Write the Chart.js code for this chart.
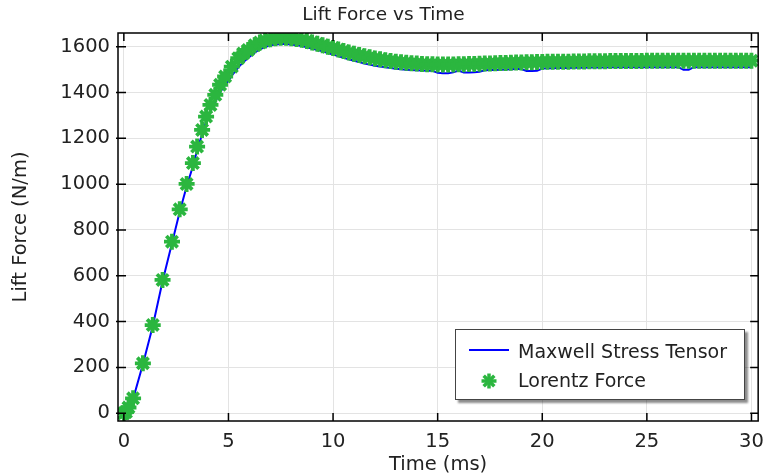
<!DOCTYPE html>
<html><head><meta charset="utf-8">
<script src="https://cdn.jsdelivr.net/npm/chart.js@4.4.1/dist/chart.umd.min.js"></script>
<style>
html,body{margin:0;padding:0;background:#fff;}
#wrap{position:relative;width:773px;height:476px;overflow:hidden;}
#legend{position:absolute;left:455px;top:329px;width:288px;height:69px;border:1.5px solid #444;background:#fff;box-shadow:3px 3px 2px rgba(0,0,0,0.45);font-family:"DejaVu Sans";font-size:19px;color:#222;}
.txt{position:absolute;left:62px;height:24px;line-height:24px;white-space:nowrap;}
.ln{position:absolute;left:13px;top:19px;width:40px;height:2px;background:#0000ff;}
.mk{position:absolute;left:24px;top:42px;}
</style></head>
<body><div id="wrap"><canvas id="c" width="773" height="476"></canvas><div id="legend"></div></div>
<script>
const chartTitle = 'Lift Force vs Time';
const xLabel = 'Time (ms)';
const yLabel = 'Lift Force (N/m)';
const seriesNames = ['Maxwell Stress Tensor', 'Lorentz Force'];
const xTicks = [0, 5, 10, 15, 20, 25, 30];
const yTicks = [0, 200, 400, 600, 800, 1000, 1200, 1400, 1600];

const time = [
  0, 0.1, 0.22, 0.44, 0.91, 1.38, 1.85, 2.3, 2.67, 3.0, 3.3, 3.5, 3.74, 3.93, 4.14, 4.37, 4.6, 4.84, 5.16, 5.47, 5.7, 5.94,
  6.25, 6.5, 6.75, 7, 7.25, 7.5, 7.75, 8,
  8.25, 8.5, 8.75, 9, 9.25, 9.5, 9.75, 10,
  10.25, 10.5, 10.75, 11, 11.25, 11.5, 11.75, 12,
  12.25, 12.5, 12.75, 13, 13.25, 13.5, 13.75, 14,
  14.25, 14.5, 14.75, 15, 15.25, 15.5, 15.75, 16,
  16.25, 16.5, 16.75, 17, 17.25, 17.5, 17.75, 18,
  18.25, 18.5, 18.75, 19, 19.25, 19.5, 19.75, 20,
  20.25, 20.5, 20.75, 21, 21.25, 21.5, 21.75, 22,
  22.25, 22.5, 22.75, 23, 23.25, 23.5, 23.75, 24,
  24.25, 24.5, 24.75, 25, 25.25, 25.5, 25.75, 26,
  26.25, 26.5, 26.75, 27, 27.25, 27.5, 27.75, 28,
  28.25, 28.5, 28.75, 29, 29.25, 29.5, 29.75, 30
];

const lorentz = [
  0, 5, 25, 65, 218, 385, 582, 749, 890, 1001, 1092, 1164, 1237, 1295, 1346, 1390, 1434, 1470, 1513, 1550, 1570, 1586,
  1606, 1618, 1627, 1633, 1637, 1639, 1639, 1637,
  1634, 1630, 1625, 1619, 1613, 1607, 1600, 1594,
  1588, 1581, 1575, 1569, 1564, 1559, 1554, 1549,
  1545, 1541, 1538, 1535, 1532, 1530, 1528, 1527,
  1525, 1524, 1524, 1523, 1523, 1523, 1523, 1524,
  1524, 1525, 1525, 1526, 1527, 1527, 1528, 1529,
  1529, 1530, 1531, 1531, 1532, 1532, 1533, 1533,
  1534, 1534, 1535, 1535, 1535, 1536, 1536, 1536,
  1537, 1537, 1537, 1537, 1538, 1538, 1538, 1538,
  1538, 1538, 1538, 1539, 1539, 1539, 1539, 1539,
  1539, 1539, 1539, 1539, 1539, 1539, 1539, 1539,
  1539, 1539, 1539, 1539, 1539, 1539, 1539, 1539
];

const maxwell = [
  0, 4, 22, 62, 214, 380, 576, 742, 880, 990, 1078, 1148, 1218, 1272, 1318, 1360, 1402, 1432, 1474, 1510, 1532, 1551,
  1574, 1589, 1599, 1606, 1610, 1612, 1612, 1610,
  1607, 1603, 1598, 1592, 1586, 1580, 1573, 1566,
  1559, 1552, 1545, 1539, 1533, 1527, 1522, 1517,
  1514, 1510, 1507, 1504, 1502, 1500, 1498, 1497,
  1496, 1495, 1495, 1486, 1484, 1484, 1488, 1496,
  1488, 1488, 1489, 1491, 1497, 1498, 1499, 1500,
  1501, 1502, 1503, 1503, 1494, 1494, 1495, 1505,
  1506, 1506, 1507, 1507, 1507, 1508, 1508, 1508,
  1509, 1509, 1509, 1509, 1510, 1510, 1510, 1510,
  1510, 1510, 1510, 1511, 1511, 1511, 1511, 1511,
  1511, 1511, 1500, 1500, 1511, 1511, 1511, 1511,
  1511, 1511, 1511, 1511, 1511, 1511, 1511, 1511
];

const BLUE = '#0000ff';
const GREEN = '#2bb63f';
const FONT = 'DejaVu Sans';
const TXT = '#222';

const framePlugin = {
  id: 'frame',
  afterDatasetsDraw(chart) {
    const {ctx, chartArea: a, scales: {x, y}} = chart;
    ctx.save();
    ctx.strokeStyle = '#000';
    ctx.lineWidth = 1.5;
    ctx.strokeRect(a.left, a.top, a.right - a.left, a.bottom - a.top);
    ctx.beginPath();
    const L = 8;
    xTicks.forEach(v => {
      const px = x.getPixelForValue(v);
      ctx.moveTo(px, a.bottom); ctx.lineTo(px, a.bottom - L);
      ctx.moveTo(px, a.top); ctx.lineTo(px, a.top + L);
    });
    yTicks.forEach(v => {
      const py = y.getPixelForValue(v);
      ctx.moveTo(a.left - 2, py); ctx.lineTo(a.left + L, py);
      ctx.moveTo(a.right, py); ctx.lineTo(a.right - L, py);
    });
    ctx.stroke();
    ctx.restore();
  }
};

new Chart(document.getElementById('c'), {
  type: 'scatter',
  data: {
    datasets: [
      {
        label: seriesNames[0],
        data: time.map((t, i) => ({x: t, y: maxwell[i]})),
        showLine: true,
        borderColor: BLUE,
        backgroundColor: BLUE,
        borderWidth: 2,
        pointRadius: 0,
        order: 2
      },
      {
        label: seriesNames[1],
        data: time.map((t, i) => ({x: t, y: lorentz[i]})),
        showLine: false,
        pointStyle: 'star',
        pointRadius: 8,
        pointBorderWidth: 3.8,
        borderColor: GREEN,
        backgroundColor: GREEN,
        clip: 0,
        order: 1
      }
    ]
  },
  options: {
    responsive: false,
    animation: false,
    devicePixelRatio: 1,
    layout: {padding: {top: 0, right: 6, left: 0, bottom: 0}},
    plugins: {
      legend: {display: false},
      tooltip: {enabled: false},
      title: {
        display: true,
        text: chartTitle,
        color: TXT,
        font: {family: FONT, size: 18.5, weight: 'normal', lineHeight: 1.2},
        padding: {top: 4, bottom: 6.8}
      }
    },
    scales: {
      x: {
        type: 'linear',
        min: -0.28,
        max: 30.32,
        afterBuildTicks: s => { s.ticks = xTicks.map(v => ({value: v})); },
        afterFit: s => { s.height = 55; },
        grid: {color: '#e3e3e3', lineWidth: 1, drawTicks: false},
        border: {display: false},
        ticks: {padding: 9, color: TXT, font: {family: FONT, size: 19.5}, maxRotation: 0, autoSkip: false, callback: v => String(v)},
        title: {display: true, text: xLabel, color: TXT, font: {family: FONT, size: 19.5, lineHeight: 1.1}, padding: {top: 0, bottom: 0}}
      },
      y: {
        type: 'linear',
        min: -34,
        max: 1660,
        afterBuildTicks: s => { s.ticks = yTicks.map(v => ({value: v})); },
        afterFit: s => { s.width = 118; },
        grid: {color: '#e3e3e3', lineWidth: 1, drawTicks: false},
        border: {display: false},
        ticks: {padding: 8, color: TXT, font: {family: FONT, size: 19.5}, autoSkip: false, callback: v => String(v)},
        title: {display: true, text: yLabel, color: TXT, font: {family: FONT, size: 19.5, lineHeight: 1.2}, padding: {top: 9, bottom: 0}}
      }
    }
  },
  plugins: [framePlugin]
});

// HTML legend built from the series names
const lg = document.getElementById('legend');
lg.innerHTML =
  '<div class="ln"></div><div class="txt" style="top:9px">' + seriesNames[0] + '</div>' +
  '<svg class="mk" width="18" height="18" viewBox="-9 -9 18 18"><g stroke="' + GREEN + '" stroke-width="3.5">' +
  '<line x1="0" y1="-7.5" x2="0" y2="7.5"/><line x1="-7.5" y1="0" x2="7.5" y2="0"/>' +
  '<line x1="-5.3" y1="-5.3" x2="5.3" y2="5.3"/><line x1="-5.3" y1="5.3" x2="5.3" y2="-5.3"/></g></svg>' +
  '<div class="txt" style="top:38px">' + seriesNames[1] + '</div>';
</script>
</body></html>
